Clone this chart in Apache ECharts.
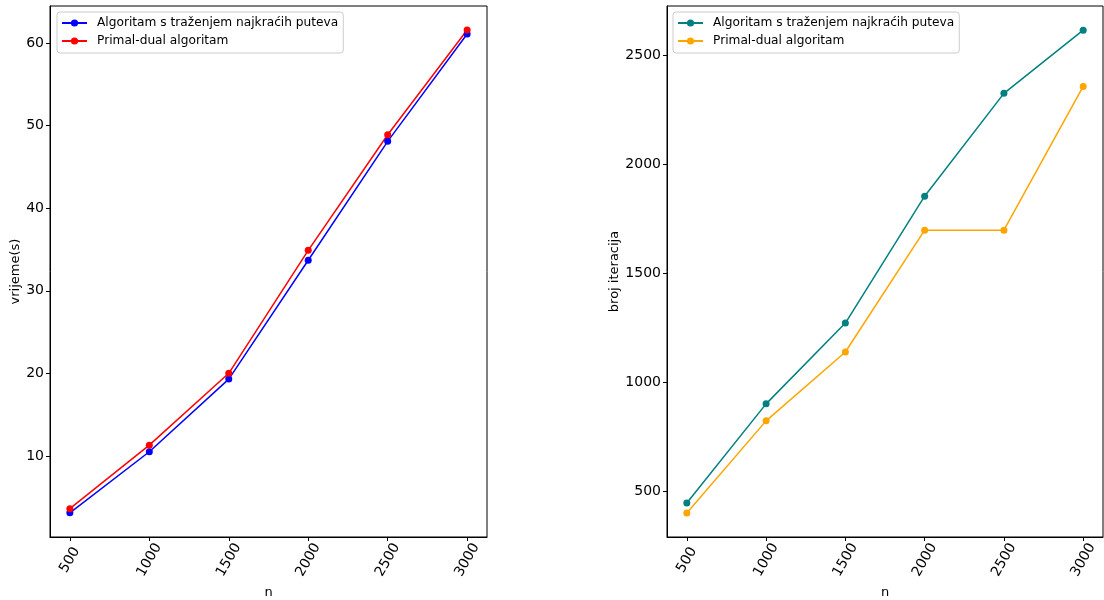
<!DOCTYPE html>
<html>
<head>
<meta charset="utf-8">
<script src="https://cdn.jsdelivr.net/npm/echarts@6/dist/echarts.min.js"></script>
<style>html,body{margin:0;padding:0;background:#fff}#c{width:1104px;height:600px}</style>
</head>
<body>
<div id="c"></div>
<script>
var nValues = [500, 1000, 1500, 2000, 2500, 3000];
var timeShortest = [3.1, 10.5, 19.3, 33.7, 48.1, 61.1];
var timePrimalDual = [3.6, 11.3, 20.0, 34.9, 48.9, 61.6];
var iterShortest = [445, 900, 1271, 1853, 2325, 2615];
var iterPrimalDual = [399, 822, 1138, 1697, 1697, 2357];
var xTicks = [500, 1000, 1500, 2000, 2500, 3000];
var yTicksTime = [10, 20, 30, 40, 50, 60];
var yTicksIter = [500, 1000, 1500, 2000, 2500];
var seriesLabels = ['Algoritam s traženjem najkraćih puteva', 'Primal-dual algoritam'];
var axisLabels = {x: 'n', yLeft: 'vrijeme(s)', yRight: 'broj iteracija'};

function pairs(xs, ys) { return xs.map(function (x, i) { return [x, ys[i]]; }); }

var FONT = 'DejaVu Sans';
var labelMap = {A1: seriesLabels[0], P1: seriesLabels[1], A2: seriesLabels[0], P2: seriesLabels[1]};
function plain(v) { return String(v); }

function xAxis(idx) {
  return {
    type: 'value', gridIndex: idx, min: 375, max: 3125,
    name: axisLabels.x, nameLocation: 'middle', nameGap: 41,
    nameTextStyle: {fontFamily: FONT, fontSize: 13, color: '#000'},
    splitLine: {show: false},
    axisLine: {show: true, onZero: false, lineStyle: {color: '#000', width: 1}},
    axisTick: {show: true, inside: false, length: 4, customValues: xTicks, lineStyle: {color: '#000'}},
    axisLabel: {customValues: xTicks, formatter: plain, rotate: 60, align: 'center', verticalAlign: 'middle',
      margin: 23, fontFamily: FONT, fontSize: 14, color: '#000'}
  };
}
function yAxis(idx, min, max, ticks, name, gap) {
  return {
    type: 'value', gridIndex: idx, min: min, max: max,
    name: name, nameLocation: 'middle', nameGap: gap, nameRotate: 90,
    nameTextStyle: {fontFamily: FONT, fontSize: 13, color: '#000'},
    splitLine: {show: false},
    axisLine: {show: true, onZero: false, lineStyle: {color: '#000', width: 1}},
    axisTick: {show: true, inside: false, length: 4, customValues: ticks, lineStyle: {color: '#000'}},
    axisLabel: {customValues: ticks, formatter: plain, margin: 6, fontFamily: FONT, fontSize: 14, color: '#000'}
  };
}
function legend(left, names) {
  return {
    left: left, top: 12, orient: 'vertical', data: names,
    itemWidth: 25, itemHeight: 9, itemGap: 6,
    padding: [5, 5, 6, 4],
    borderColor: '#cccccc', borderWidth: 1, borderRadius: 3,
    backgroundColor: 'rgba(255,255,255,0.8)',
    formatter: function (n) { return labelMap[n]; },
    textStyle: {fontFamily: FONT, fontSize: 12.2, color: '#000', padding: [0, 0, 0, 5]}
  };
}
function line(name, xi, data, color) {
  return {
    name: name, type: 'line', xAxisIndex: xi, yAxisIndex: xi, data: data,
    symbol: 'circle', symbolSize: 7, showSymbol: true,
    lineStyle: {color: color, width: 1.5}, itemStyle: {color: color},
    emphasis: {disabled: true}, animation: false
  };
}

var chart = echarts.init(document.getElementById('c'));
chart.setOption({
  animation: false,
  backgroundColor: '#fff',
  grid: [
    {left: 50, right: 617, top: 6, bottom: 63, show: true, borderColor: '#000', borderWidth: 1, containLabel: false, outerBoundsMode: 'none'},
    {left: 667, right: 1, top: 6, bottom: 63, show: true, borderColor: '#000', borderWidth: 1, containLabel: false, outerBoundsMode: 'none'}
  ],
  xAxis: [xAxis(0), xAxis(1)],
  yAxis: [
    yAxis(0, 0.17, 64.5, yTicksTime, axisLabels.yLeft, 28),
    yAxis(1, 289, 2726, yTicksIter, axisLabels.yRight, 44)
  ],
  legend: [legend(57, ['A1', 'P1']), legend(673, ['A2', 'P2'])],
  series: [
    line('A1', 0, pairs(nValues, timeShortest), '#0000ff'),
    line('P1', 0, pairs(nValues, timePrimalDual), '#ff0000'),
    line('A2', 1, pairs(nValues, iterShortest), '#008080'),
    line('P2', 1, pairs(nValues, iterPrimalDual), '#ffa500')
  ]
});
</script>
</body>
</html>
